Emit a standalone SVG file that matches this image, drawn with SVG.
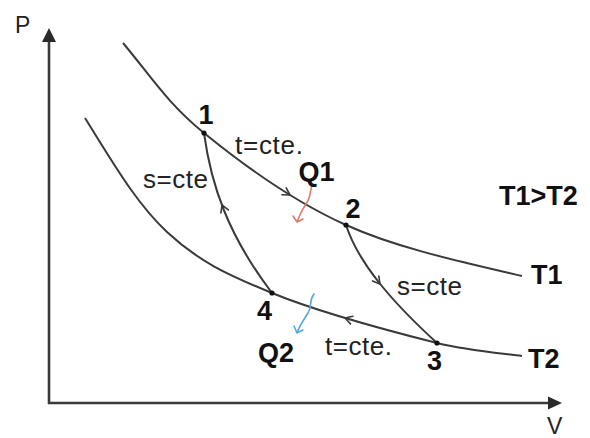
<svg xmlns="http://www.w3.org/2000/svg" width="590" height="438" viewBox="0 0 590 438">
<style>
.ax{stroke:#3a3a3a;stroke-width:2.6;fill:none}
.cv{stroke:#3a3a3a;stroke-width:2;fill:none}
.ah{stroke:#3a3a3a;stroke-width:1.6;fill:none;stroke-linecap:round;stroke-linejoin:round}
.lb{font-family:"Liberation Sans",Arial,sans-serif;font-weight:bold;font-size:27px;fill:#111}
.tx{font-family:"Liberation Sans",Arial,sans-serif;font-size:26px;fill:#222}
.ax-t{font-family:"Liberation Sans",Arial,sans-serif;font-size:23px;fill:#222}
.dot{fill:#111}
</style>
<rect width="590" height="438" fill="#fff"/>
<g id="axes">
<path class="ax" d="M49,404 V40 M48,403 H550"/>
<path d="M49,28 L42,42 L56,42 Z M562,403 L548,396.5 L548,409.5 Z" fill="#2a2a2a"/>
<text class="ax-t" x="15" y="33">P</text>
<text class="ax-t" x="547" y="434">V</text>
</g>
<g id="connectors">
<path id="isotherm-T1" class="cv" d="M123,43 C150,75 166.8,102.7 204,133 C241.2,163.3 293,201.2 346,225 C399,248.8 463.3,262.2 522,276"/>
<path id="isotherm-T2" class="cv" d="M85,118 C112.3,161.7 135.8,202.8 167,232 C198.2,261.2 227,274.5 272,293 C317,311.5 395.3,332.5 437,343 C465,350 494,352.5 522,356"/>
<path id="adiabat-41" class="cv" d="M204,133 C211,185 228,235 272,293"/>
<path id="adiabat-23" class="cv" d="M346,225 C358,262 390,300 437,343"/>
<path class="ah" d="M-7,-4 L0,0 L-7,4" transform="translate(290,195) rotate(32)"/>
<path class="ah" d="M-7,-4 L0,0 L-7,4" transform="translate(380,284) rotate(52)"/>
<path class="ah" d="M-7,-4 L0,0 L-7,4" transform="translate(345,318) rotate(197)"/>
<path class="ah" d="M-7,-4 L0,0 L-7,4" transform="translate(222,205) rotate(-112)"/>
<path id="Q1-arrow" d="M313,184 C309,190 312,196 306,204 C301,211 300,215 297,222 M293,216 L297,222 L303,219" fill="none" stroke="#de7b6b" stroke-width="1.6" stroke-linecap="round" stroke-linejoin="round"/>
<path id="Q2-arrow" d="M314,294 C308,302 313,306 308,313 C304,320 300,324 297,333 M294,326 L297,333 L303,330" fill="none" stroke="#5aa6dc" stroke-width="1.6" stroke-linecap="round" stroke-linejoin="round"/>
</g>
<g id="node-1"><circle class="dot" cx="204" cy="133" r="2.6"/><text class="lb" x="206" y="124" text-anchor="middle">1</text></g>
<g id="node-2"><circle class="dot" cx="346" cy="225" r="2.6"/><text class="lb" x="353" y="218" text-anchor="middle">2</text></g>
<g id="node-3"><circle class="dot" cx="437" cy="343" r="2.6"/><text class="lb" x="434.5" y="370" text-anchor="middle">3</text></g>
<g id="node-4"><circle class="dot" cx="272" cy="293" r="2.6"/><text class="lb" x="264.5" y="320" text-anchor="middle">4</text></g>
<g id="labels">
<text class="tx" x="235" y="154" textLength="68">t=cte.</text>
<text class="tx" x="143" y="188" textLength="65">s=cte</text>
<text class="tx" x="397" y="295" textLength="65">s=cte</text>
<text class="tx" x="325" y="355" textLength="67">t=cte.</text>
<text class="lb" x="316.5" y="181" text-anchor="middle">Q1</text>
<text class="lb" x="276" y="362" text-anchor="middle">Q2</text>
<text class="lb" x="538.5" y="205" text-anchor="middle">T1&gt;T2</text>
<text class="lb" x="531" y="284">T1</text>
<text class="lb" x="528" y="368">T2</text>
</g>
</svg>
